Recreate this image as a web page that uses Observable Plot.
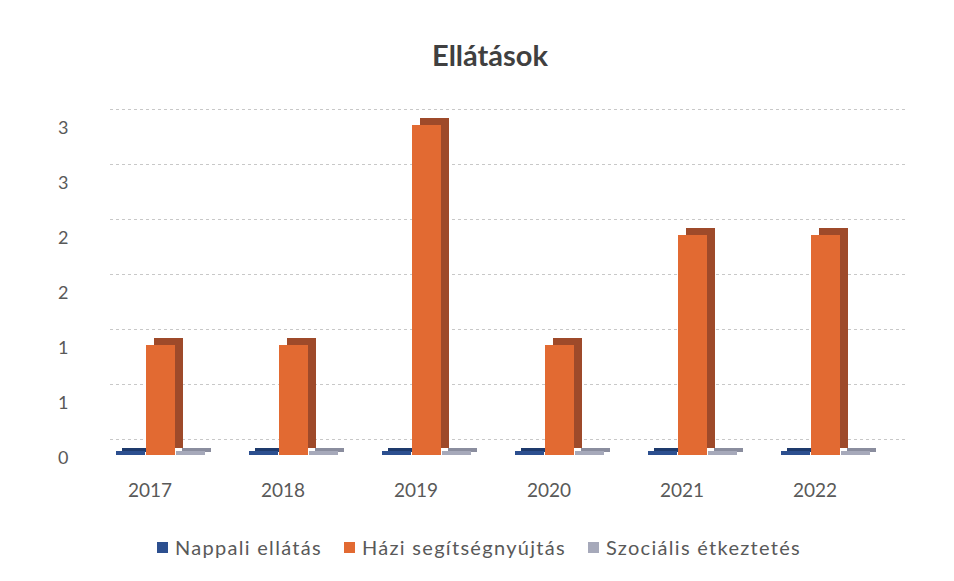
<!DOCTYPE html>
<html>
<head>
<meta charset="utf-8">
<script src="https://cdn.jsdelivr.net/npm/d3@7"></script>
<script src="https://cdn.jsdelivr.net/npm/@observablehq/plot@0.6"></script>
<style>
  body { margin: 0; background: #ffffff; font-family: Lato, "Open Sans", sans-serif; }
  #title { height: 95px; box-sizing: border-box; padding-top: 36px; text-align: center; padding-left: 26px;
           font-size: 29px; font-weight: bold; color: #404040; line-height: 38px; }
  #legend { display: flex; justify-content: center; gap: 22px; margin-top: 20px; padding-left: 4px;
            font-size: 20px; letter-spacing: 1.3px; color: #595959; }
  #legend .item { display: flex; align-items: center; gap: 7px; }
  #legend .sw { width: 11px; height: 11px; display: inline-block; }
</style>
</head>
<body>
<div id="title">Ellátások</div>
<div id="chart"></div>
<div id="legend"></div>
<script>
// ---- data ----
const years = ["2017", "2018", "2019", "2020", "2021", "2022"];
const seriesNames = ["Nappali ellátás", "Házi segítségnyújtás", "Szociális étkeztetés"];
const nappali = [0, 0, 0, 0, 0, 0];
const hazi = [1, 1, 3, 1, 2, 2];
const szocialis = [0, 0, 0, 0, 0, 0];
const yTicks = [0, 0.5, 1, 1.5, 2, 2.5, 3];

// ---- styles ----
const frontColors = ["#2c4f8f", "#e26a32", "#a6a9ba"];
const sideColors = ["#1e3a6c", "#9e4a2a", "#8a8d9e"];

const rows = (vals) => years.map((y, i) => ({year: y, value: vals[i]}));
const dNap = rows(nappali), dHazi = rows(hazi), dSzoc = rows(szocialis);

const plateOpts = {x: "year", y: "value", insetTop: -4};
const chart = Plot.plot({
  width: 954,
  height: 420,
  marginLeft: 110,
  marginRight: 49,
  marginTop: 30,
  marginBottom: 60,
  style: {fontFamily: "Lato, 'Open Sans', sans-serif", fontSize: "18px", color: "#595959", background: "#ffffff"},
  x: {domain: years, paddingInner: 0.33, paddingOuter: 0.145, align: 0.14, axis: null},
  y: {domain: [0, 3], ticks: yTicks, tickFormat: d => String(Math.round(d)), tickSize: 0, tickPadding: 42, label: null, axis: null},
  marks: [
    Plot.ruleY(yTicks, {stroke: "#c8c8c8", strokeDasharray: "3,3", dy: -16}),
    // y tick labels
    Plot.text(yTicks, {y: d => d, text: d => String(Math.round(d)), frameAnchor: "left", textAnchor: "end", dx: -42, dy: 3, fill: "#595959", fontSize: 18}),
    // grey plates (Szociális)
    Plot.barY(dSzoc, {...plateOpts, fill: sideColors[2], insetLeft: 60, insetRight: 0, dx: 6, dy: -3}),
    Plot.barY(dSzoc, {...plateOpts, fill: frontColors[2], insetLeft: 60, insetRight: 0}),
    // blue plates (Nappali)
    Plot.barY(dNap, {...plateOpts, fill: sideColors[0], insetLeft: 0, insetRight: 60, dx: 6, dy: -3}),
    Plot.barY(dNap, {...plateOpts, fill: frontColors[0], insetLeft: 0, insetRight: 60}),
    // orange bars (Házi)
    Plot.barY(dHazi, {x: "year", y: "value", fill: sideColors[1], insetLeft: 30, insetRight: 30, dx: 8, dy: -7}),
    Plot.barY(dHazi, {x: "year", y: "value", fill: frontColors[1], insetLeft: 30, insetRight: 30}),
    // x labels
    Plot.text(years, {x: d => d, frameAnchor: "bottom", dy: 41, dx: -11, fill: "#595959", fontSize: 19})
  ]
});
document.getElementById("chart").appendChild(chart);

const legend = document.getElementById("legend");
seriesNames.forEach((name, i) => {
  const item = document.createElement("div");
  item.className = "item";
  const sw = document.createElement("span");
  sw.className = "sw";
  sw.style.background = frontColors[i];
  const t = document.createElement("span");
  t.textContent = name;
  item.appendChild(sw);
  item.appendChild(t);
  legend.appendChild(item);
});
</script>
</body>
</html>
